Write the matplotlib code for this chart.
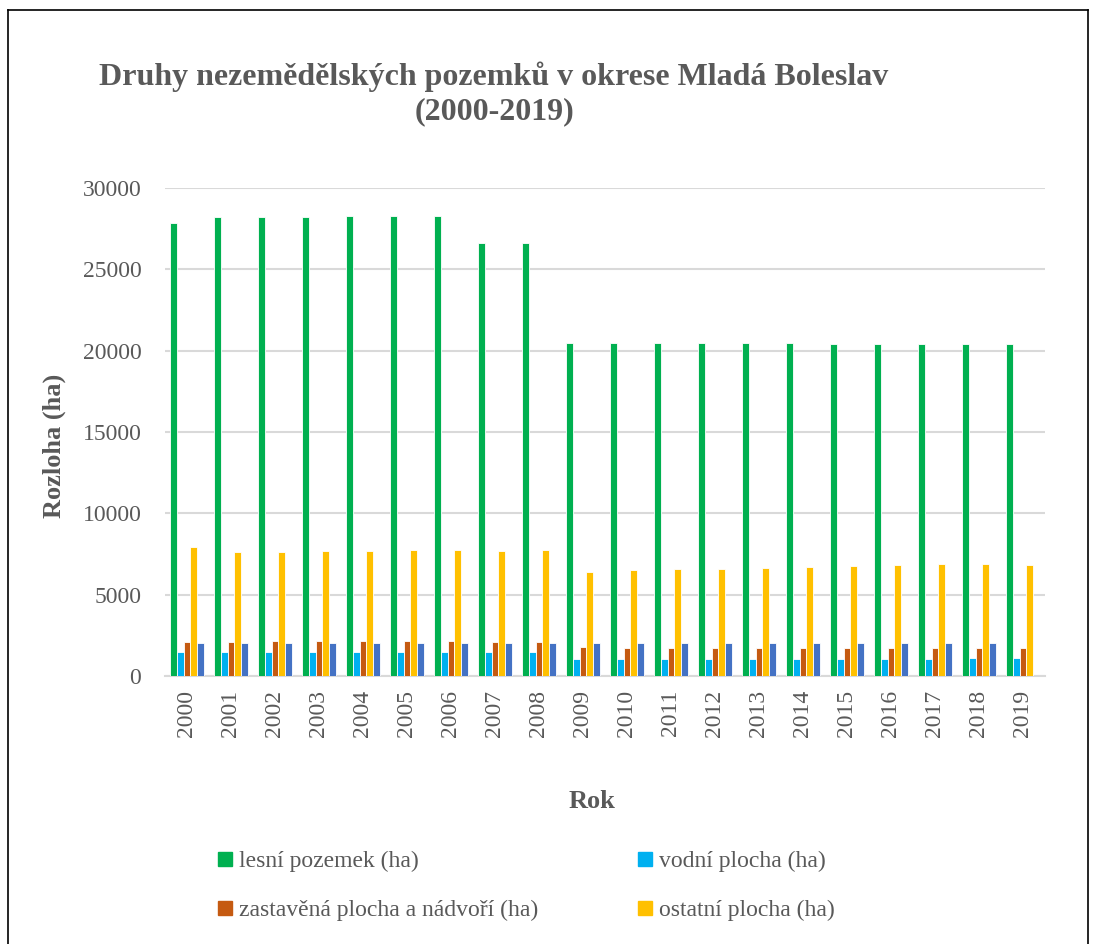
import numpy as np
import matplotlib.pyplot as plt
from matplotlib.lines import Line2D

plt.rcParams['font.family'] = ['Liberation Serif', 'DejaVu Serif']

years = [str(y) for y in range(2000, 2020)]

# values (ha)
lesni = [27860, 28190, 28250, 28250, 28260, 28260, 28260, 26610, 26610, 20450,
         20450, 20450, 20460, 20460, 20460, 20440, 20440, 20440, 20440, 20440]
vodni = [1450, 1450, 1450, 1450, 1470, 1470, 1470, 1450, 1450, 1060,
         1060, 1060, 1065, 1065, 1065, 1065, 1065, 1065, 1080, 1080]
zastavena = [2110, 2110, 2130, 2130, 2150, 2150, 2150, 2110, 2110, 1780,
             1720, 1720, 1720, 1720, 1720, 1720, 1720, 1720, 1720, 1730]
ostatni = [7950, 7620, 7640, 7660, 7680, 7720, 7740, 7680, 7740, 6390,
           6510, 6560, 6560, 6620, 6700, 6780, 6820, 6860, 6880, 6820]
pata = [2030, 2030, 2030, 2030, 2030, 2030, 2030, 2030, 2030, 2030,
        2030, 2030, 2030, 2030, 2030, 2050, 2050, 2050, 2050, 0]

names = ["lesní pozemek (ha)", "vodní plocha (ha)",
         "zastavěná plocha a nádvoří (ha)", "ostatní plocha (ha)", None]
colors = ["#00B050", "#00B0F0", "#C55A11", "#FFC000", "#4472C4"]
series = [lesni, vodni, zastavena, ostatni, pata]

grey = "#595959"

fig = plt.figure(figsize=(10.94, 9.44), dpi=100)
ax = fig.add_axes([0.1508, 0.2839, 0.8044, 0.5169])

x = np.arange(len(years))
w = 0.152
for i, (vals, c) in enumerate(zip(series, colors)):
    ax.bar(x + (i - 2) * w, vals, width=w, color=c, edgecolor="white", linewidth=0.6, zorder=3)

ax.set_xlim(-0.5, len(years) - 0.5)
ax.set_ylim(0, 30000)
ax.set_yticks(range(0, 30001, 5000))
ax.set_xticks(x)
ax.set_xticklabels(years, rotation=90)
ax.grid(axis="y", color="#D9D9D9", linewidth=1.5, zorder=0)
for s in ["top", "right", "left"]:
    ax.spines[s].set_visible(False)
ax.spines["bottom"].set_color("#D9D9D9")
ax.spines["bottom"].set_linewidth(1.5)
ax.tick_params(axis="both", length=0, labelsize=17, labelcolor=grey)
ax.tick_params(axis="y", pad=17)
ax.tick_params(axis="x", pad=10)

ax.set_ylabel("Rozloha (ha)", fontsize=19, fontweight="bold", color=grey)
ax.yaxis.set_label_coords((66 - 165) / 880, (676 - 446) / 488)
fig.text(592 / 1094, 1 - 801 / 944, "Rok", fontsize=19, fontweight="bold", color=grey,
         ha="center", va="center")

fig.text(494 / 1094, 1 - 94 / 944,
         "Druhy nezemědělských pozemků v okrese Mladá Boleslav\n(2000-2019)",
         fontsize=23, fontweight="bold", color=grey, ha="center", va="center",
         multialignment="center", linespacing=1.25)

# row-major order like the original legend
order = [0, 2, 1, 3]
handles = [Line2D([], [], marker="s", linestyle="none", markersize=10, color=colors[k])
           for k in order]
labels = [names[k] for k in order]
leg = fig.legend(handles, labels, ncol=2, loc="center", frameon=False,
                 bbox_to_anchor=(0.479, 1 - 886 / 944), fontsize=17,
                 handletextpad=0.1, handlelength=1.0, columnspacing=4.0,
                 labelspacing=1.15, labelcolor=grey)

# outer border
for xs, ys in [([8, 8], [10, 944]), ([8, 1088], [10, 10]), ([1088, 1088], [10, 944])]:
    fig.add_artist(Line2D([v / 1094 for v in xs], [1 - v / 944 for v in ys],
                          color="black", linewidth=1.2))

fig.savefig("out.png", dpi=100)
